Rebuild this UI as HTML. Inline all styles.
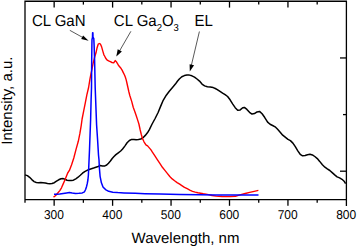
<!DOCTYPE html>
<html><head><meta charset="utf-8"><style>
html,body{margin:0;padding:0;background:#fff;}
svg{display:block;}
text{font-family:"Liberation Sans",sans-serif;fill:#000;text-rendering:geometricPrecision;}
</style></head><body>
<svg width="357" height="246" viewBox="0 0 357 246">
<g stroke="#000" stroke-width="1.3" fill="none">
<path d="M25,202.8 V1.25 H346.4 V205.9 M25,199.55 H346.4"/>
<line x1="54.15" y1="199.55" x2="54.15" y2="205.8"/><line x1="54.15" y1="1.25" x2="54.15" y2="7.6"/><line x1="83.38" y1="199.55" x2="83.38" y2="202.8"/><line x1="83.38" y1="1.25" x2="83.38" y2="4.6"/><line x1="112.60" y1="199.55" x2="112.60" y2="205.8"/><line x1="112.60" y1="1.25" x2="112.60" y2="7.6"/><line x1="141.82" y1="199.55" x2="141.82" y2="202.8"/><line x1="141.82" y1="1.25" x2="141.82" y2="4.6"/><line x1="171.05" y1="199.55" x2="171.05" y2="205.8"/><line x1="171.05" y1="1.25" x2="171.05" y2="7.6"/><line x1="200.28" y1="199.55" x2="200.28" y2="202.8"/><line x1="200.28" y1="1.25" x2="200.28" y2="4.6"/><line x1="229.50" y1="199.55" x2="229.50" y2="205.8"/><line x1="229.50" y1="1.25" x2="229.50" y2="7.6"/><line x1="258.73" y1="199.55" x2="258.73" y2="202.8"/><line x1="258.73" y1="1.25" x2="258.73" y2="4.6"/><line x1="287.95" y1="199.55" x2="287.95" y2="205.8"/><line x1="287.95" y1="1.25" x2="287.95" y2="7.6"/><line x1="317.18" y1="199.55" x2="317.18" y2="202.8"/><line x1="317.18" y1="1.25" x2="317.18" y2="4.6"/><line x1="346.4" y1="57.95" x2="340" y2="57.95"/><line x1="346.4" y1="114.6" x2="343" y2="114.6"/><line x1="346.4" y1="171.2" x2="340" y2="171.2"/>
</g>
<polyline points="25.0,174.9 27.4,175.6 29.6,177.3 31.8,179.6 34.1,181.6 36.3,182.5 38.6,182.7 40.8,182.6 43.0,182.7 45.3,182.9 47.5,183.4 49.8,183.7 52.0,183.5 54.3,182.7 56.5,181.2 58.7,179.8 61.0,178.8 63.2,178.6 65.0,179.3 67.0,180.2 69.0,180.6 71.2,180.6 73.4,180.2 75.8,178.8 78.1,177.2 80.3,175.3 82.5,173.2 84.7,171.6 87.0,170.4 89.1,169.5 91.4,168.7 93.6,168.0 95.9,167.2 98.1,166.5 100.0,165.6 102.4,166.1 104.9,165.9 106.7,165.0 108.5,163.2 110.4,161.0 112.2,158.5 114.0,156.5 115.9,154.6 118.3,152.8 120.7,151.0 122.6,149.0 124.8,146.1 127.1,142.8 129.4,140.5 131.7,139.4 133.9,139.4 136.2,139.7 138.5,139.6 140.8,139.0 143.0,137.7 145.3,135.4 147.6,132.6 149.5,129.3 152.1,124.0 155.1,118.5 158.1,112.5 160.6,106.4 163.2,100.3 166.3,95.2 169.3,91.2 172.3,87.7 175.4,84.1 177.4,81.3 179.3,79.0 181.8,76.8 184.4,75.6 186.9,75.1 189.4,75.1 191.9,75.8 194.5,77.1 197.0,79.0 199.5,81.1 202.0,84.1 204.6,85.9 207.4,86.8 210.3,87.1 213.2,87.6 215.3,88.5 217.3,89.6 220.0,91.4 222.6,93.1 225.1,94.6 227.6,96.5 230.1,99.8 232.6,103.9 235.2,107.7 237.7,110.3 240.2,109.9 242.7,107.7 244.4,107.4 246.9,109.4 249.5,112.3 252.0,114.1 254.5,113.6 257.0,111.9 259.5,111.4 262.1,113.8 264.6,117.3 267.6,122.1 270.1,124.3 272.6,125.5 275.1,126.8 277.6,129.3 280.2,132.2 282.7,135.2 285.2,137.2 288.0,139.4 290.4,140.6 292.9,143.1 295.3,146.7 297.8,150.9 300.2,154.3 302.6,155.8 305.1,155.5 307.5,154.7 310.0,154.3 312.4,154.9 314.8,156.5 317.3,158.6 319.7,161.4 322.4,164.8 324.9,167.2 327.3,168.9 329.8,170.5 332.2,172.6 334.7,174.9 337.1,176.9 339.6,177.9 342.0,179.3 344.1,181.2 345.6,183.7" fill="none" stroke="#000" stroke-width="1.5" stroke-linejoin="round"/>
<polyline points="53.5,197.1 55.4,195.7 57.6,193.2 59.8,190.6 61.5,187.8 63.2,183.9 64.9,180.0 66.0,177.3 67.7,173.0 69.4,170.4 71.6,164.8 73.8,158.0 76.1,149.1 78.3,141.3 79.9,133.4 81.2,125.6 82.1,119.0 83.7,110.9 85.3,102.8 86.9,94.7 88.6,87.5 89.9,79.3 90.8,74.7 92.0,69.0 93.1,63.4 94.8,56.5 96.0,52.8 97.1,47.7 98.2,44.2 99.4,43.5 100.5,44.2 101.7,47.1 102.8,51.1 103.9,54.8 104.6,56.0 105.7,58.3 106.9,59.8 108.6,60.9 110.3,61.7 112.0,62.5 113.7,62.8 115.2,60.6 116.3,61.7 118.4,65.2 120.5,67.7 122.1,70.1 123.3,72.6 124.5,75.0 125.3,77.0 126.2,79.9 126.8,82.5 127.8,87.0 128.8,91.5 129.8,95.5 131.7,101.4 133.3,107.5 134.6,111.1 136.0,115.0 137.6,119.9 138.9,124.0 140.2,130.0 141.3,134.5 142.5,138.5 144.0,141.8 145.9,144.8 147.6,145.9 149.3,147.9 151.0,149.9 152.4,152.2 154.9,155.9 157.3,159.6 160.0,163.7 162.4,167.3 164.9,170.4 167.3,173.4 169.8,176.5 172.2,178.9 174.6,180.8 177.1,182.6 179.7,184.2 181.8,185.6 184.5,187.4 187.2,188.7 189.8,190.1 192.5,191.3 195.2,192.1 197.9,192.8 200.6,193.2 203.3,193.7 206.0,194.1 208.6,194.6 212.0,195.5 216.0,196.1 222.0,196.5 230.0,196.6 235.4,196.3 240.8,194.7 245.2,193.5 249.7,192.4 254.2,191.4 258.4,190.4" fill="none" stroke="#f00" stroke-width="1.4" stroke-linejoin="round"/>
<polyline points="54.0,194.3 56.5,194.2 59.8,194.0 63.2,193.4 66.6,192.9 69.4,192.5 72.2,193.1 75.5,193.4 78.9,193.2 82.3,192.9 84.5,191.8 85.6,189.5 86.5,186.7 87.3,183.4 87.9,180.0 88.4,175.0 89.5,150.0 90.6,120.0 91.1,100.0 91.5,88.0 91.7,60.0 91.9,45.0 92.0,39.5 92.5,37.5 92.6,32.7 92.9,32.7 93.0,37.0 93.8,38.6 94.1,45.0 94.6,60.0 95.2,88.0 96.6,125.0 97.6,140.0 98.5,155.0 99.0,160.0 99.4,168.1 100.1,176.3 101.4,182.8 103.0,186.9 105.5,189.6 108.7,191.3 112.8,192.2 117.7,192.6 124.0,192.9 135.2,193.3 145.0,193.7 160.0,194.0 180.0,194.4 200.0,194.8 216.0,195.0 232.0,194.9 245.0,194.9 258.5,194.9" fill="none" stroke="#00f" stroke-width="1.5" stroke-linejoin="round"/>
<g stroke="#222" stroke-width="0.75" fill="none">
<line x1="69.8" y1="30.3" x2="84" y2="38.2"/>
<line x1="130.9" y1="31.3" x2="119.5" y2="51"/>
<line x1="199.4" y1="31.5" x2="191.2" y2="66"/>
</g>
<g fill="#000" stroke="none">
<polygon points="88.6,40.8 81.2,38.9 83.1,35.5"/>
<polygon points="116.3,56.6 117.7,49.2 121.9,51.5"/>
<polygon points="189.8,71.5 189.6,64.3 194.1,65.2"/>
</g>
<text transform="translate(53.90,219.2) scale(1,1.07)" text-anchor="middle" font-size="12">300</text><text transform="translate(112.35,219.2) scale(1,1.07)" text-anchor="middle" font-size="12">400</text><text transform="translate(170.80,219.2) scale(1,1.07)" text-anchor="middle" font-size="12">500</text><text transform="translate(229.25,219.2) scale(1,1.07)" text-anchor="middle" font-size="12">600</text><text transform="translate(287.70,219.2) scale(1,1.07)" text-anchor="middle" font-size="12">700</text><text transform="translate(346.15,219.2) scale(1,1.07)" text-anchor="middle" font-size="12">800</text>
<text transform="translate(31.9,25.55) scale(1,1.06)" font-size="15">CL GaN</text>
<text transform="translate(113.85,25.55) scale(1,1.06)" font-size="15">CL Ga<tspan font-size="9.5" dy="5.6">2</tspan><tspan dy="-5.6">O</tspan><tspan font-size="9.5" dy="5.6">3</tspan></text>
<text transform="translate(194.4,25.75) scale(1,1.06)" font-size="15">EL</text>
<text x="185.5" y="242.6" text-anchor="middle" font-size="15">Wavelength, nm</text>
<text transform="translate(11.5,100.6) rotate(-90)" text-anchor="middle" font-size="15">Intensity, a.u.</text>
</svg>
</body></html>
